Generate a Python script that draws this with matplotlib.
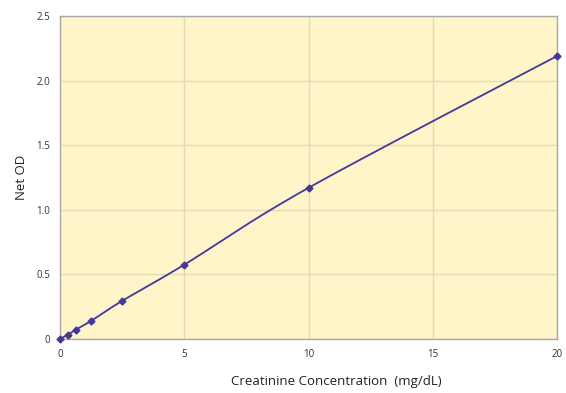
import matplotlib.pyplot as plt
import numpy as np

plt.rcParams['font.family'] = ['Open Sans', 'DejaVu Sans']

concentracao = [0, 0.3125, 0.625, 1.25, 2.5, 5, 10, 20]
net_od = [0.0, 0.032, 0.071, 0.140, 0.295, 0.575, 1.17, 2.19]


def suavizar(x, y, n=30):
    # curva tipo Catmull-Rom, como a linha suavizada do Excel
    x = np.array(x, float)
    y = np.array(y, float)
    sx = 1 / 20.0
    sy = 1 / 2.5
    px = np.concatenate([[x[0]], x, [x[-1]]]) * sx
    py = np.concatenate([[y[0]], y, [y[-1]]]) * sy
    xs, ys = [], []
    for i in range(1, len(px) - 2):
        p0 = np.array([px[i - 1], py[i - 1]])
        p1 = np.array([px[i], py[i]])
        p2 = np.array([px[i + 1], py[i + 1]])
        p3 = np.array([px[i + 2], py[i + 2]])
        c1 = p1 + (p2 - p0) / 6
        c2 = p2 - (p3 - p1) / 6
        t = np.linspace(0, 1, n)[:, None]
        b = ((1 - t) ** 3) * p1 + 3 * ((1 - t) ** 2) * t * c1 + 3 * (1 - t) * t ** 2 * c2 + t ** 3 * p2
        xs.extend(b[:, 0] / sx)
        ys.extend(b[:, 1] / sy)
    return xs, ys


fig = plt.figure(figsize=(5.66, 3.93), dpi=100)
ax = fig.add_axes([60 / 566, 54 / 393, 497 / 566, 323 / 393])
ax.set_facecolor('#fff5c9')

xs, ys = suavizar(concentracao, net_od)
ax.plot(xs, ys, color='#44399a', lw=1.3, zorder=3)
ax.plot(concentracao, net_od, 'D', color='#44399a', ms=3.5, zorder=4, clip_on=False)

ax.set_xlim(0, 20)
ax.set_ylim(0, 2.5)
ax.set_xticks([0, 5, 10, 15, 20])
ax.set_yticks([0, 0.5, 1.0, 1.5, 2.0, 2.5])
ax.set_yticklabels(['0', '0.5', '1.0', '1.5', '2.0', '2.5'])
ax.grid(True, color='#e2dab8', lw=1)
ax.set_axisbelow(True)
for s in ax.spines.values():
    s.set_color('#a8a8a8')
    s.set_linewidth(1)
ax.tick_params(length=0, labelsize=7, colors='#333333', pad=7)

ax.set_xlabel('Creatinine Concentration  (mg/dL)', fontsize=9.5, color='#222222', labelpad=11)
ax.xaxis.label.set_x(0.555)
ax.set_ylabel('Net OD', fontsize=9.5, color='#222222', labelpad=6)

plt.savefig('out.png', dpi=100)
